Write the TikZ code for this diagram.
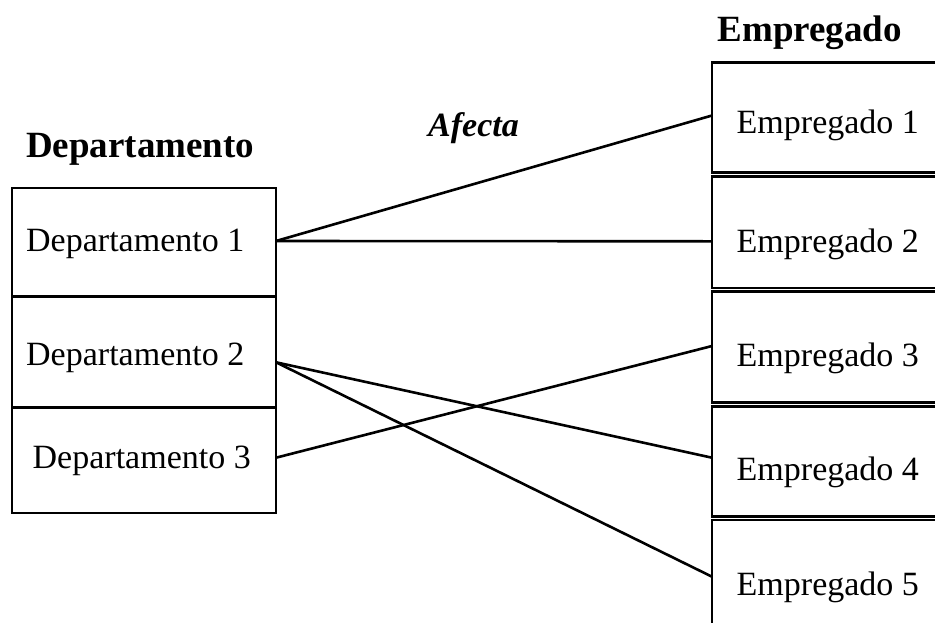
\documentclass[tikz,border=0pt]{standalone}
\usepackage{fontspec}
\setmainfont{Liberation Serif}
\begin{document}
\begin{tikzpicture}[x=1pt,y=-1pt,
  box/.style={draw,line width=2.6pt},
  lbl/.style={anchor=base west,inner sep=0pt,font=\fontsize{34}{40}\selectfont},
  ttl/.style={anchor=base west,inner sep=0pt,font=\fontsize{37}{44}\selectfont\bfseries},
  conn/.style={line width=2.6pt}]
\clip (0,0) rectangle (935,622);
\fill[white] (0,0) rectangle (935,622);
% titles
\node[ttl] (tdep) at (26,157) {Departamento};
\node[ttl] (temp) at (717.5,41) {Empregado};
\node[anchor=base west,inner sep=0pt,font=\fontsize{34}{40}\selectfont\bfseries\itshape] (taf) at (428,136) {Afecta};
% left box
\draw[box] (12,188) rectangle (276,513);
\draw[box] (12,296.7) -- (276,296.7);
\draw[box] (12,407.7) -- (276,407.7);
\node[lbl] (n1) at (26,251) {Departamento 1};
\node[lbl] (n2) at (26,365) {Departamento 2};
\node[lbl] (n3) at (32.5,468.3) {Departamento 3};
% right boxes
\draw[box] (960,62.7) -- (712,62.7) -- (712,172.7) -- (960,172.7);
\draw[box] (960,176.7) -- (712,176.7) -- (712,288) -- (960,288);
\draw[box] (960,291.7) -- (712,291.7) -- (712,402.7) -- (960,402.7);
\draw[box] (960,406.5) -- (712,406.5) -- (712,516.2) -- (960,516.2);
\draw[box] (960,520) -- (712,520) -- (712,640);
\node[lbl] (m1) at (736.5,133.3) {Empregado 1};
\node[lbl] (m2) at (736.5,252.5) {Empregado 2};
\node[lbl] (m3) at (736.5,366) {Empregado 3};
\node[lbl] (m4) at (736.5,480) {Empregado 4};
\node[lbl] (m5) at (736.5,595) {Empregado 5};
% connector ends
\coordinate (d1) at (276,241);
\coordinate (d2) at (276,362.3);
\coordinate (d3) at (276,457.7);
\coordinate (e1) at (712,115.5);
\coordinate (e2) at (712,241.3);
\coordinate (e3) at (712,346);
\coordinate (e4) at (712,457.7);
\coordinate (e5) at (712,576.7);
\draw[conn] (d1) -- (e1);
\draw[conn] (d1) -- (e2);
\draw[conn] (d2) -- (e4);
\draw[conn] (d2) -- (e5);
\draw[conn] (d3) -- (e3);
\end{tikzpicture}
\end{document}
